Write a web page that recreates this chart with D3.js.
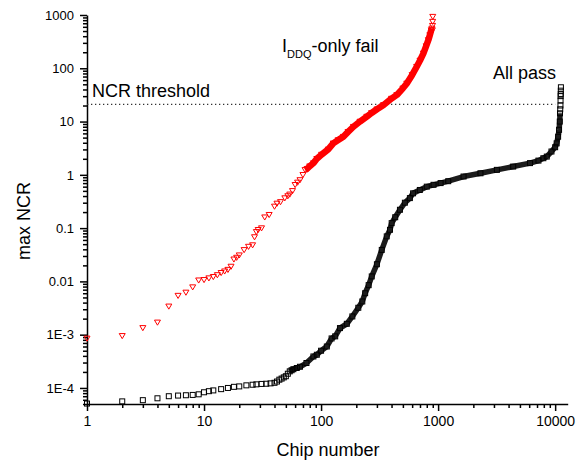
<!DOCTYPE html>
<html lang="en">
<head>
    <meta charset="UTF-8">
    <title>max NCR vs chip number</title>
    <script src="https://d3js.org/d3.v7.min.js"></script>
    <style>
        body {
            margin: 0;
            background-color: #fff;
        }
        svg text {
            font-family: "Liberation Sans", Arial, sans-serif;
            fill: #000;
        }
        .axis path, .axis line {
            stroke: #000;
            stroke-width: 1.5;
        }
    </style>
</head>
<body>
    <div id="chart"></div>

    <script>
        // IDDQ-only fail chips (sorted)
        const failChips = [1, 2, 3, 4, 5, 6, 7, 8, 9, 10, 11, 12, 13, 14, 15, 16, 17, 18, 19, 20,
            22, 24, 26, 27, 28, 29, 31, 33, 36, 40, 42, 45, 49, 52, 54, 57, 60, 63, 66, 70, 73, 76, 80, 86, 92, 101, 115,
            127, 140, 155, 170, 189, 215, 246, 270, 300, 342, 400, 444, 500, 540, 600, 656, 700,
            749, 790, 826, 850, 873, 885, 893, 896, 898, 900];
        const failNCR = [8.5e-4, 9.5e-4, 1.34e-3, 1.7e-3, 3.4e-3, 5.4e-3, 6.2e-3, 7.8e-3, 0.0105, 0.0107,
            0.0115, 0.0122, 0.0132, 0.0145, 0.0155, 0.0166, 0.019, 0.026, 0.028, 0.031,
            0.039, 0.045, 0.048, 0.068, 0.085, 0.093, 0.1, 0.16, 0.178, 0.255, 0.29, 0.31, 0.366, 0.4, 0.43, 0.5, 0.65, 0.72, 0.8, 1.0, 1.24, 1.3, 1.45, 1.66, 2.0, 2.4, 3.0,
            3.9, 4.5, 5.2, 6.4, 8.0, 10, 12.4, 14.5, 17, 20.5, 27, 31.6, 42, 52, 75, 107, 140,
            191, 260, 340, 420, 520, 560, 520, 630, 750, 930];

        // all pass chips (sorted)
        const passChips = [1, 2, 3, 4, 5, 6, 7, 8, 9, 10, 11, 12, 14, 16, 18, 20, 23, 26, 28, 31, 34, 37,
            40, 42, 44, 46, 48, 50, 52, 54, 56, 58, 62, 66, 75, 86, 92, 100, 112, 123, 132, 145, 166, 185, 208, 225, 238, 255,
            271, 300, 330, 364, 388, 401, 430, 472, 520, 574, 611, 698, 800, 914, 1050, 1220, 1650,
            2300, 3180, 4380, 6100, 7200, 7930, 8480, 9300, 10000, 10300, 10600, 10800, 10950, 11000,
            11050, 11100, 11120, 11140, 11160, 11180, 11200];
        const passNCR = [5.1e-5, 5.6e-5, 5.9e-5, 6.4e-5, 7.0e-5, 7.2e-5, 7.3e-5, 7.4e-5, 7.6e-5, 8.3e-5,
            8.7e-5, 9.0e-5, 9.5e-5, 1.0e-4, 1.05e-4, 1.07e-4, 1.12e-4, 1.15e-4, 1.17e-4, 1.19e-4, 1.2e-4, 1.22e-4,
            1.25e-4, 1.32e-4, 1.43e-4, 1.5e-4, 1.58e-4, 1.66e-4, 1.85e-4, 2.05e-4, 2.15e-4, 2.25e-4, 2.37e-4, 2.5e-4, 2.94e-4, 3.9e-4, 4.2e-4, 5.0e-4, 6.0e-4, 8.5e-4, 9.3e-4, 1.33e-3, 1.6e-3, 2.2e-3, 3.2e-3, 4.2e-3, 6.0e-3, 8.5e-3,
            0.0124, 0.021, 0.039, 0.07, 0.093, 0.124, 0.16, 0.221, 0.3, 0.366, 0.45, 0.52, 0.6, 0.65, 0.7, 0.76, 0.93,
            1.07, 1.24, 1.43, 1.66, 1.85, 2.05, 2.2, 2.74, 3.3, 3.9, 5.2, 7.0, 10, 14.3,
            17, 20, 25, 30, 33, 38, 44];

        // axes
        const yMajor = [1e-4, 1e-3, 0.01, 0.1, 1, 10, 100, 1000];
        const yTickLabels = ["1E-4", "1E-3", "0.01", "0.1", "1", "10", "100", "1000"];
        const threshold = 21;

        const width = 587, height = 462;
        const svg = d3.select('#chart').append('svg')
            .attr('width', width)
            .attr('height', height);

        const x = d3.scaleLog().domain([1, 12800]).range([87, 567.7]);
        const y = d3.scaleLog().domain([5e-5, 1000]).range([404, 15]);

        const isMajor = v => Math.abs(Math.log10(v) - Math.round(Math.log10(v))) < 1e-6;

        // x axis
        const gx = svg.append('g')
            .attr('class', 'axis')
            .attr('transform', 'translate(0,404)')
            .call(d3.axisBottom(x).tickValues(x.ticks()).tickSizeOuter(0)
                .tickFormat(d => isMajor(d) ? d3.format('d')(d) : ''));
        gx.selectAll('.tick line').attr('y2', d => isMajor(d) ? 7 : 4);
        gx.selectAll('.tick text').attr('y', 12).style('font-size', '14px');

        // y axis
        const gy = svg.append('g')
            .attr('class', 'axis')
            .attr('transform', 'translate(87,0)')
            .call(d3.axisLeft(y).tickValues(y.ticks()).tickSizeOuter(0)
                .tickFormat(d => {
                    const i = yMajor.findIndex(m => Math.abs(m - d) / m < 1e-6);
                    return i >= 0 ? yTickLabels[i] : '';
                }));
        gy.selectAll('.tick line').attr('x2', d => isMajor(d) ? -7 : -4);
        gy.selectAll('.tick text').attr('x', -13).style('font-size', '13px');

        // NCR threshold line
        svg.append('line')
            .attr('x1', x(1)).attr('x2', x(10000))
            .attr('y1', y(threshold)).attr('y2', y(threshold))
            .attr('stroke', '#333')
            .attr('stroke-width', 1.2)
            .attr('stroke-dasharray', '1.3,2.7');

        const fail = failChips.map((c, i) => ({c: c, v: failNCR[i]}));
        const pass = passChips.map((c, i) => ({c: c, v: passNCR[i]}));

        const line = d3.line().x(d => x(d.c)).y(d => y(d.v));

        // dense parts drawn as a band of overlapping markers
        svg.append('path')
            .datum(pass.filter(d => d.c >= 54 && d.c <= 11000))
            .attr('fill', 'none')
            .attr('stroke', '#1c1c1c')
            .attr('stroke-width', 5.5)
            .attr('stroke-linejoin', 'round')
            .attr('d', line);

        svg.append('path')
            .datum(fail.filter(d => d.c >= 73 && d.c <= 885))
            .attr('fill', 'none')
            .attr('stroke', '#ff0000')
            .attr('stroke-width', 6.5)
            .attr('stroke-linejoin', 'round')
            .attr('d', line);

        // squares
        svg.append('g').selectAll('rect')
            .data(pass)
            .enter()
            .append('rect')
            .attr('x', d => x(d.c) - 2.5)
            .attr('y', d => y(d.v) - 2.5)
            .attr('width', 5)
            .attr('height', 5)
            .attr('fill', 'none')
            .attr('stroke', '#000')
            .attr('stroke-width', 1);

        // down triangles
        svg.append('g').selectAll('path')
            .data(fail)
            .enter()
            .append('path')
            .attr('transform', d => `translate(${x(d.c)},${y(d.v)})`)
            .attr('d', 'M-3,-2.3L3,-2.3L0,2.8Z')
            .attr('fill', 'none')
            .attr('stroke', '#ff0000')
            .attr('stroke-width', 1);

        // labels
        svg.append('text')
            .attr('x', 92).attr('y', 97)
            .style('font-size', '18px')
            .text('NCR threshold');

        svg.append('text')
            .attr('x', 493).attr('y', 79)
            .style('font-size', '18px')
            .text('All pass');

        const lbl = svg.append('text')
            .attr('x', 282).attr('y', 52)
            .style('font-size', '18px');
        lbl.append('tspan').text('I');
        lbl.append('tspan').attr('dy', 6).style('font-size', '11px').text('DDQ');
        lbl.append('tspan').attr('dy', -6).text('-only fail');

        svg.append('text')
            .attr('text-anchor', 'middle')
            .attr('x', 328).attr('y', 456)
            .style('font-size', '18px')
            .text('Chip number');

        svg.append('text')
            .attr('text-anchor', 'middle')
            .attr('transform', 'translate(30,221) rotate(-90)')
            .style('font-size', '18px')
            .text('max NCR');
    </script>
</body>
</html>
